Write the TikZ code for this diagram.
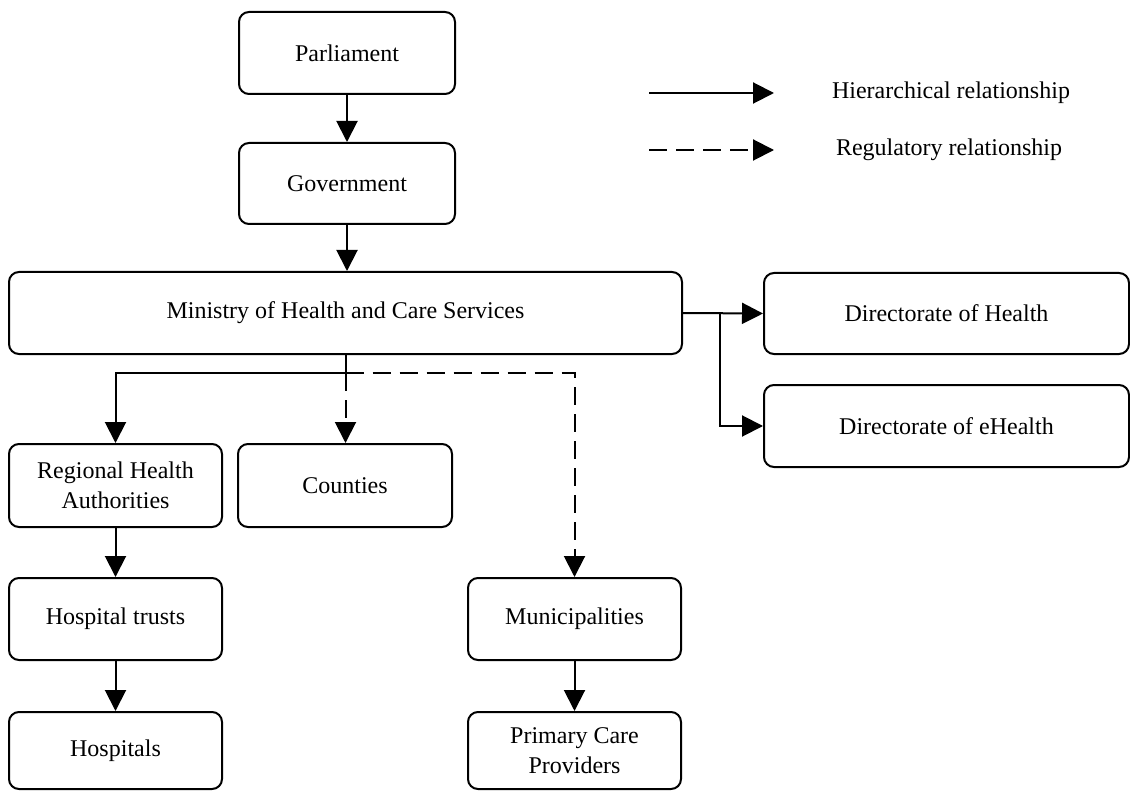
\documentclass[tikz,border=0pt]{standalone}
\usepackage{fontspec}
\setmainfont{Liberation Serif}
\usetikzlibrary{arrows.meta}
\begin{document}
\begin{tikzpicture}[x=0.75pt,y=-0.75pt,
  box/.style={draw=black, line width=1.5pt, rounded corners=7.5pt, align=center,
    inner sep=0pt, font=\fontsize{18pt}{22.5pt}\selectfont},
  lbl/.style={inner sep=0pt, font=\fontsize{18pt}{22.5pt}\selectfont},
  arr/.style={line width=1.5pt, -{Triangle[length=15.75pt,width=15.75pt]}},
  dsh/.style={dash pattern=on 13.5pt off 6.75pt}
]
\useasboundingbox (0,0) rectangle (1130,791);

% nodes
\node[box, minimum width=162pt, minimum height=61.5pt] (par) at (347,53) {Parliament};
\node[box, minimum width=162pt, minimum height=60.75pt] (gov) at (347,183.5) {Government};
\node[box, minimum width=504.75pt, minimum height=61.5pt] (min) at (345.5,313) {Ministry of Health and Care Services};
\node[box, minimum width=273.75pt, minimum height=60.75pt] (dh) at (946.5,313.5) {Directorate of Health};
\node[box, minimum width=273.75pt, minimum height=61.5pt] (de) at (946.5,426) {Directorate of eHealth};
\node[box, minimum width=159.75pt, minimum height=62.25pt] (rha) at (115.5,485.5) {Regional Health\\Authorities};
\node[box, minimum width=160.5pt, minimum height=62.25pt] (cty) at (345,485.5) {Counties};
\node[box, minimum width=159.75pt, minimum height=61.5pt] (ht) at (115.5,619) {Hospital trusts};
\node[box, minimum width=159.75pt, minimum height=57.75pt] (hos) at (115.5,750.5) {Hospitals};
\node[box, minimum width=159.75pt, minimum height=61.5pt] (mun) at (574.5,619) {Municipalities};
\node[box, minimum width=159.75pt, minimum height=57.75pt] (pcp) at (574.5,750.5) {Primary Care\\Providers};

% junctions
\coordinate (j1) at (345.5,373);
\coordinate (j2) at (720,313);

% connectors
\draw[arr] (par.south) -- (gov.north);
\draw[arr] (gov.south) -- (gov.south |- min.north);
\draw[line width=1.5pt] (min.south) -- (j1);
\draw[arr] (j1) -| (rha.north);
\draw[arr,dsh] (j1) -- (j1 |- cty.north);
\draw[arr,dsh] (j1) -| (mun.north);
\draw[arr] (min.east) -- (dh.west);
\draw[arr] (j2) |- (de.west);
\draw[arr] (rha.south) -- (ht.north);
\draw[arr] (ht.south) -- (hos.north);
\draw[arr] (mun.south) -- (pcp.north);

% legend
\coordinate (l1a) at (649,93);
\coordinate (l1b) at (774,93);
\coordinate (l2a) at (649,150);
\coordinate (l2b) at (774,150);
\draw[arr] (l1a) -- (l1b);
\draw[arr,dsh] (l2a) -- (l2b);
\node[lbl] (t1) at (951,93) {Hierarchical relationship};
\node[lbl] (t2) at (949,150) {Regulatory relationship};
\end{tikzpicture}
\end{document}
